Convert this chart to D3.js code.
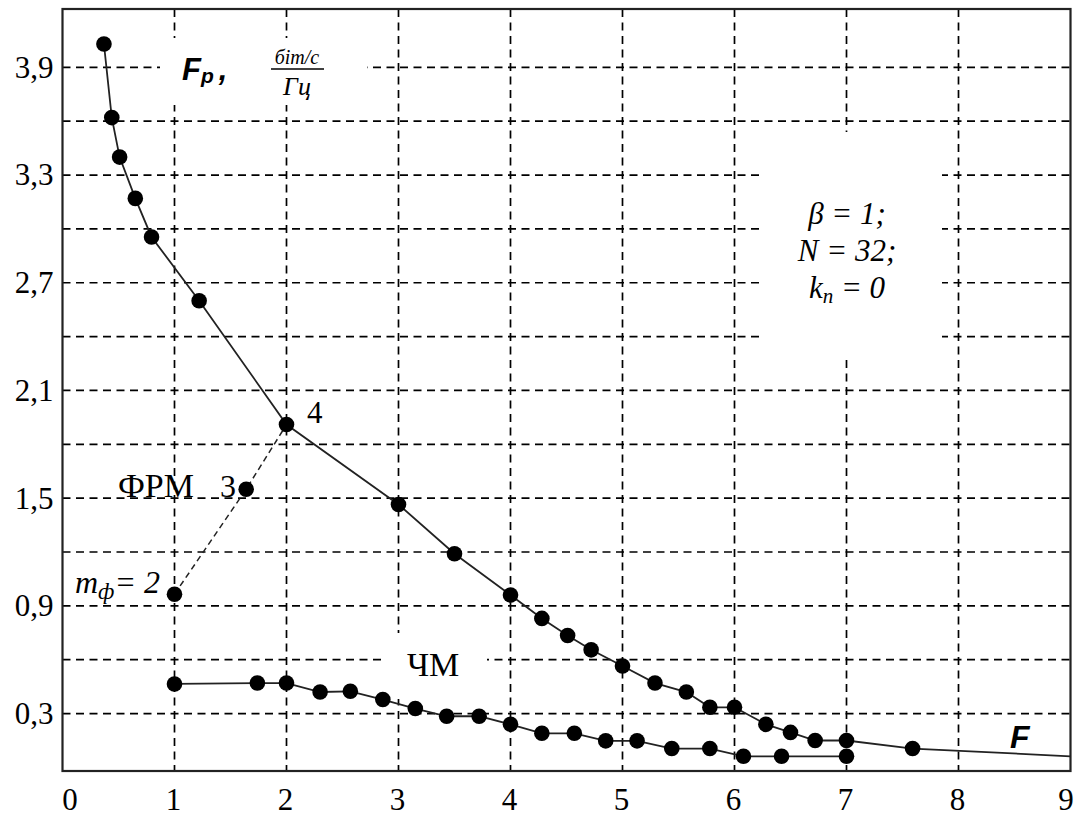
<!DOCTYPE html>
<html>
<head>
<meta charset="utf-8">
<script src="https://cdn.jsdelivr.net/npm/d3@7"></script>
<style>
  body { margin: 0; background: #fff; }
  svg { display: block; }
</style>
</head>
<body>
<div id="chart"></div>
<script>
// ФРМ: основна крива (F, Fp)
const frmF  = [0.37, 0.44, 0.51, 0.65, 0.795, 1.22, 2.0, 3.0, 3.5, 4.0, 4.28, 4.51, 4.72, 5.0,
               5.29, 5.57, 5.78, 6.0, 6.28, 6.5, 6.72, 7.0, 7.59];
const frmFp = [4.03, 3.62, 3.40, 3.17, 2.955, 2.60, 1.91, 1.465, 1.19, 0.96, 0.83, 0.735, 0.655, 0.565,
               0.47, 0.42, 0.335, 0.335, 0.24, 0.195, 0.15, 0.15, 0.105];
// кінець кривої без маркера
const frmTail = [9.0, 0.062];

// ФРМ при mф = 2, 3, 4
const mF  = [1.0, 1.64, 2.0];
const mFp = [0.965, 1.55, 1.91];

// ЧМ
const chmF  = [1.0, 1.74, 2.0, 2.3, 2.57, 2.86, 3.15, 3.43, 3.72, 4.0, 4.28, 4.57, 4.85, 5.13,
               5.44, 5.78, 6.08, 6.42, 7.0];
const chmFp = [0.465, 0.47, 0.47, 0.42, 0.424, 0.378, 0.328, 0.285, 0.285, 0.24, 0.19, 0.19, 0.148, 0.148,
               0.105, 0.105, 0.062, 0.062, 0.062];

const xTicks = [0, 1, 2, 3, 4, 5, 6, 7, 8, 9];
const yTicks = [0.3, 0.9, 1.5, 2.1, 2.7, 3.3, 3.9];
const yGrid  = [0.3, 0.6, 0.9, 1.2, 1.5, 1.8, 2.1, 2.4, 2.7, 3.0, 3.3, 3.6, 3.9];

const width = 1078, height = 818;
const SERIF = '"Liberation Serif", "Times New Roman", serif';
const SANS = '"Liberation Sans", Arial, sans-serif';

const svg = d3.select("#chart")
    .append("svg")
    .attr("width", width)
    .attr("height", height);

const x = d3.scaleLinear().domain([0, 9]).range([62.5, 1070.5]);
const y = d3.scaleLinear().domain([-0.02, 4.225]).range([771, 9]);

const plotTop = y.range()[1], plotBottom = y.range()[0];
const plotLeft = x.range()[0], plotRight = x.range()[1];

// сітка
const grid = svg.append("g")
    .attr("stroke", "#000")
    .attr("stroke-width", 1.7)
    .attr("stroke-dasharray", "8,5.5");

grid.selectAll("line.v")
    .data(xTicks.filter(d => d > 0 && d < 9))
    .enter().append("line")
    .attr("class", "v")
    .attr("x1", d => x(d)).attr("x2", d => x(d))
    .attr("y1", plotTop).attr("y2", plotBottom);

grid.selectAll("line.h")
    .data(yGrid)
    .enter().append("line")
    .attr("class", "h")
    .attr("x1", plotLeft).attr("x2", plotRight)
    .attr("y1", d => y(d)).attr("y2", d => y(d));

// білі підкладки під написи
const masks = [
    [160, 38, 207, 67],
    [759, 132, 183, 225],
    [382, 633, 105, 66]
];
svg.append("g").selectAll("rect")
    .data(masks)
    .enter().append("rect")
    .attr("x", d => d[0]).attr("y", d => d[1])
    .attr("width", d => d[2]).attr("height", d => d[3])
    .attr("fill", "#fff");

// рамка
svg.append("rect")
    .attr("x", plotLeft).attr("y", plotTop)
    .attr("width", plotRight - plotLeft).attr("height", plotBottom - plotTop)
    .attr("fill", "none")
    .attr("stroke", "#222")
    .attr("stroke-width", 2.2);

// осі (лише підписи)
const fmt = d => d3.format(".1f")(d).replace(".", ",");

const yAxis = svg.append("g")
    .attr("transform", `translate(${plotLeft},0)`)
    .call(d3.axisLeft(y).tickValues(yTicks).tickFormat(fmt).tickSize(0).tickPadding(9));

const xAxis = svg.append("g")
    .attr("transform", `translate(0,${plotBottom})`)
    .call(d3.axisBottom(x).tickValues(xTicks).tickFormat(d3.format("d")).tickSize(0).tickPadding(17));

[yAxis, xAxis].forEach(a => {
    a.attr("font-family", null).attr("font-size", null);
    a.select(".domain").remove();
    a.selectAll("text")
        .attr("fill", "#000")
        .style("font-family", SERIF)
        .style("font-size", "31px");
});

// крайні підписи зсунуті всередину, як в оригіналі
xAxis.selectAll("text")
    .attr("dx", d => d === 0 ? 7 : d === 9 ? -5 : -1.5);

// криві
const line = d3.line().x(d => x(d[0])).y(d => y(d[1]));

const frmPts = frmF.map((f, i) => [f, frmFp[i]]);
const mPts = mF.map((f, i) => [f, mFp[i]]);
const chmPts = chmF.map((f, i) => [f, chmFp[i]]);

svg.append("path")
    .datum(mPts)
    .attr("d", line)
    .attr("fill", "none")
    .attr("stroke", "#222")
    .attr("stroke-width", 1.5)
    .attr("stroke-dasharray", "6,4");

svg.append("path")
    .datum(frmPts.concat([frmTail]))
    .attr("d", line)
    .attr("fill", "none")
    .attr("stroke", "#222")
    .attr("stroke-width", 1.8);

svg.append("path")
    .datum(chmPts)
    .attr("d", line)
    .attr("fill", "none")
    .attr("stroke", "#222")
    .attr("stroke-width", 1.8);

svg.append("g").selectAll("circle")
    .data(frmPts.concat(mPts.slice(0, 2), chmPts))
    .enter().append("circle")
    .attr("cx", d => x(d[0]))
    .attr("cy", d => y(d[1]))
    .attr("r", 7.8)
    .attr("fill", "#000");

// написи
function label(px, py, size, family, style, weight) {
    return svg.append("text")
        .attr("x", px).attr("y", py)
        .attr("fill", "#000")
        .style("font-family", family)
        .style("font-size", size + "px")
        .style("font-style", style || "normal")
        .style("font-weight", weight || "normal");
}

const fp = label(182, 80, 31, SANS, "italic", "bold");
fp.append("tspan").text("F");
fp.append("tspan").attr("dy", 3).style("font-size", "21px").text("p");
fp.append("tspan").attr("dy", -3).attr("dx", 5).text(",");

label(297, 64, 20, SERIF, "italic").attr("text-anchor", "middle").text("біт/с");
svg.append("line")
    .attr("x1", 271).attr("x2", 324)
    .attr("y1", 69).attr("y2", 69)
    .attr("stroke", "#000").attr("stroke-width", 1.4);
label(297, 95, 26, SERIF, "italic").attr("text-anchor", "middle").text("Гц");

label(847, 224, 31, SERIF, "italic").attr("text-anchor", "middle").text("β = 1;");
label(847, 261, 31, SERIF, "italic").attr("text-anchor", "middle").text("N = 32;");
const kn = label(847, 298, 31, SERIF, "italic").attr("text-anchor", "middle");
kn.append("tspan").text("k");
kn.append("tspan").attr("dy", 5).style("font-size", "21px").text("n");
kn.append("tspan").attr("dy", -5).text(" = 0");

label(307, 423, 31, SERIF).text("4");
label(118, 497, 34, SERIF).text("ФРМ");
label(220, 497, 32, SERIF).text("3");
label(407, 676, 34, SERIF).text("ЧМ");

const mf = label(75, 593, 32, SERIF, "italic");
mf.append("tspan").text("m");
mf.append("tspan").attr("dy", 6).style("font-size", "23px").text("ф");
mf.append("tspan").attr("dy", -6).text("=\u00a02");

label(1010, 748, 32, SANS, "italic", "bold").text("F");
</script>
</body>
</html>
